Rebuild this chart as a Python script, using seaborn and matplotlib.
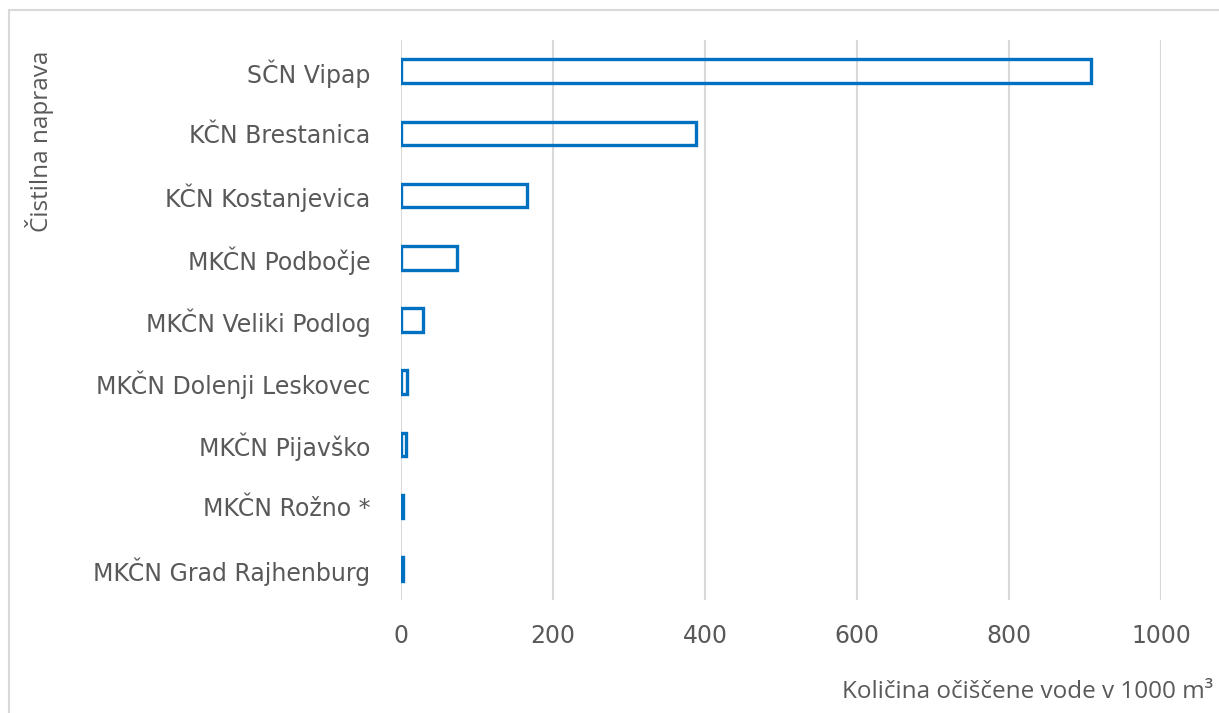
import matplotlib
matplotlib.use("Agg")
import matplotlib.pyplot as plt
import seaborn as sns
import pandas as pd
from matplotlib.patches import Rectangle

# Data
plants = ["SČN Vipap", "KČN Brestanica", "KČN Kostanjevica", "MKČN Podbočje",
          "MKČN Veliki Podlog", "MKČN Dolenji Leskovec", "MKČN Pijavško",
          "MKČN Rožno *", "MKČN Grad Rajhenburg"]
volumes = [908, 388, 166, 74, 29, 8, 6, 2, 2]
x_ticks = [0, 200, 400, 600, 800, 1000]

df = pd.DataFrame({"plant": plants, "volume": volumes})

sns.set_style("white")
plt.rcParams['font.family'] = ['DejaVu Sans']

fig = plt.figure(figsize=(12.19, 7.13), dpi=100)
ax = fig.add_axes([401/1219, 1 - 600/713, (1161 - 401)/1219, (600 - 40)/713])

sns.barplot(data=df, x="volume", y="plant", orient="h", ax=ax,
            fill=False, color="#0070C0", linewidth=2.4, width=0.38)

# Axis styling
ax.set_xlim(0, 1000)
ax.set_ylim(8.5, -0.5)
ax.set_xticks(x_ticks)
ax.grid(axis="x", color="#d9d9d9", linewidth=1.5)
ax.set_axisbelow(True)
for s in ax.spines.values():
    s.set_visible(False)
ax.tick_params(axis="y", length=0, pad=22, labelsize=17, labelcolor="#595959")
ax.tick_params(axis="x", length=0, pad=17, labelsize=17, labelcolor="#595959")
ax.set_xlabel("")
ax.set_ylabel("")

# Axis titles
fig.text(40/1219, 1 - 141/713, "Čistilna naprava", rotation=90, ha="center", va="center",
         fontsize=17.5, color="#595959", family=["Open Sans", "DejaVu Sans"])
fig.text(1213/1219, 1 - 692/713, "Količina očiščene vode v 1000 m³", ha="right", va="center",
         fontsize=17.5, color="#595959", family=["Open Sans", "DejaVu Sans"])

# Chart border
fig.patches.append(Rectangle((9/1219, -0.1), 1.2, 1 - 10/713 + 0.1, transform=fig.transFigure,
                             fill=False, edgecolor="#d9d9d9", linewidth=1.5))

fig.savefig("out.png", dpi=100)
